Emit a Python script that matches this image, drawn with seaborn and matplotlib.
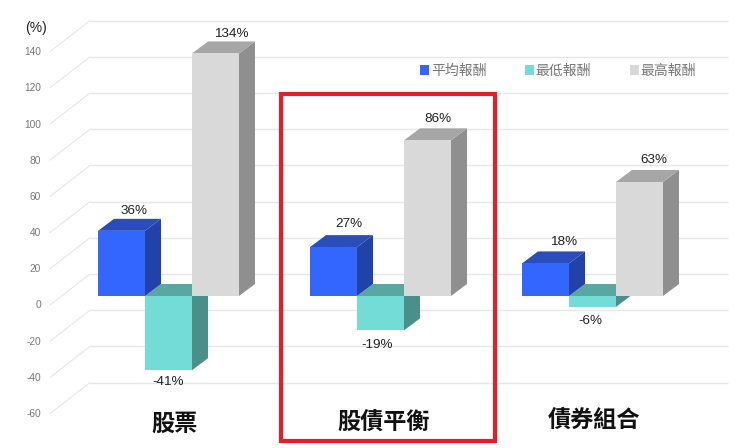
import matplotlib
matplotlib.use("Agg")
import matplotlib.pyplot as plt
from matplotlib.patches import Polygon, Rectangle
import pandas as pd
import seaborn as sns

categories = ["股票", "股債平衡", "債券組合"]
series_names = ["平均報酬", "最低報酬", "最高報酬"]
avg_values = [36, 27, 18]
low_values = [-41, -19, -6]
high_values = [134, 86, 63]
y_ticks = [140, 120, 100, 80, 60, 40, 20, 0, -20, -40, -60]

front_colors = ["#3366ff", "#74dcd6", "#d9d9d9"]
side_colors = ["#2342a8", "#4a8f8a", "#8f8f8f"]
top_colors = ["#2a4dbb", "#5aa6a0", "#a6a6a6"]

sns.set_theme(style="white")
plt.rcParams["font.family"] = ["Liberation Sans", "Noto Sans CJK TC", "DejaVu Sans"]

W, H = 746, 448
PX_X = 212.0            # pixels per category
PX_Y = 1.81             # pixels per percent
ZERO_X, ZERO_Y = 168.5, 296.0

df = pd.DataFrame({
    "cat": categories * 3,
    "series": sum([[s] * 3 for s in series_names], []),
    "val": avg_values + low_values + high_values,
})

fig = plt.figure(figsize=(W / 100, H / 100), dpi=100)
ax = fig.add_axes([0, 0, 1, 1])
sns.barplot(data=df, x="cat", y="val", hue="series", hue_order=series_names,
            palette=front_colors, width=0.665, gap=0, dodge=True, saturation=1,
            errorbar=None, legend=False, ax=ax, zorder=4, linewidth=0)
ax.set_xlim(-ZERO_X / PX_X, (W - ZERO_X) / PX_X)
ax.set_ylim((ZERO_Y - H) / PX_Y, ZERO_Y / PX_Y)
ax.axis("off")

dx = lambda p: p / PX_X
dy = lambda p: p / PX_Y

# back wall gridlines and floor diagonals
BACK = dy(296 - 274)
for v in y_ticks:
    ax.plot([dx(90) - ZERO_X / PX_X, dx(728) - ZERO_X / PX_X], [v + BACK, v + BACK],
            color="#e6e6e6", lw=1.0, zorder=1, solid_capstyle="butt")
    front = v + dy(296 - 305)
    ax.plot([dx(50) - ZERO_X / PX_X, dx(90) - ZERO_X / PX_X], [front, v + BACK],
            color="#e6e6e6", lw=0.8, zorder=1)
    ax.text(dx(41) - ZERO_X / PX_X, front - dy(0.5), str(v), ha="right", va="center",
            fontsize=7.3, color="#777777")

ax.text(dx(25) - ZERO_X / PX_X, (ZERO_Y - 28.5) / PX_Y, "(%)", fontsize=10,
        color="#222222", va="center", ha="left")

# 3D extrusions of the bars
DEPTH_X, DEPTH_Y = dx(16), dy(12)
z_order = {0: 3, 1: 2, 2: 3}
for i, cont in enumerate(ax.containers):
    for bar in cont:
        x0, w = bar.get_x(), bar.get_width()
        b, h = bar.get_y(), bar.get_height()
        y0, y1 = min(b, b + h), max(b, b + h)
        x1 = x0 + w
        bar.set_zorder(5 if i != 1 else 4.5)
        ax.add_patch(Polygon([(x1, y0), (x1 + DEPTH_X, y0 + DEPTH_Y),
                              (x1 + DEPTH_X, y1 + DEPTH_Y), (x1, y1)],
                             facecolor=side_colors[i], edgecolor="none", zorder=z_order[i]))
        ax.add_patch(Polygon([(x0, y1), (x0 + DEPTH_X, y1 + DEPTH_Y),
                              (x1 + DEPTH_X, y1 + DEPTH_Y), (x1, y1)],
                             facecolor=top_colors[i], edgecolor="none", zorder=z_order[i]))

# value labels: pixel offsets from the top/bottom centre of each bar
label_offsets = [
    [(12.5, 20), (15, 23), (18, 21)],
    [(-0.5, -12), (-3.5, -15), (-2.5, -14)],
    [(16, 19.5), (10.5, 21.5), (14, 22)],
]
for i, cont in enumerate(ax.containers):
    for bar, (ox, oy) in zip(cont, label_offsets[i]):
        v = bar.get_height()
        ax.annotate(f"{v:.0f}%", (bar.get_x() + bar.get_width() / 2, v),
                    xytext=(ox * 0.72, oy * 0.72), textcoords="offset points",
                    ha="center", va="center", fontsize=9.7, color="#222222", zorder=8)

# category labels
for k, (name, oy) in enumerate(zip(categories, [424, 423, 421])):
    ax.text(k + dx(6 if k == 0 else 3.5 if k == 1 else 1.5), (ZERO_Y - oy) / PX_Y, name,
            ha="center", va="center", fontsize=16.7, fontweight="bold",
            color="#111111", family=["Noto Sans CJK TC", "DejaVu Sans"], zorder=8)

# highlight box
ax.add_patch(Rectangle(((281 - ZERO_X) / PX_X, (ZERO_Y - 441) / PX_Y), 214 / PX_X, 347 / PX_Y,
                       fill=False, edgecolor="#e01f26", lw=3, zorder=9))

# legend
handles = [Rectangle((0, 0), 1, 1, facecolor=c, edgecolor="none") for c in front_colors]
leg = ax.legend(handles, series_names, loc="center", bbox_to_anchor=(558 / W, 1 - 71 / H),
                ncol=3, frameon=False, labelcolor="#777777",
                handlelength=0.65, handleheight=0.65, handletextpad=0.15, columnspacing=2.75,
                prop={"family": ["Noto Sans CJK TC", "DejaVu Sans"], "size": 10})
leg.set_zorder(8)

fig.savefig("out.png", dpi=100, facecolor="white")
